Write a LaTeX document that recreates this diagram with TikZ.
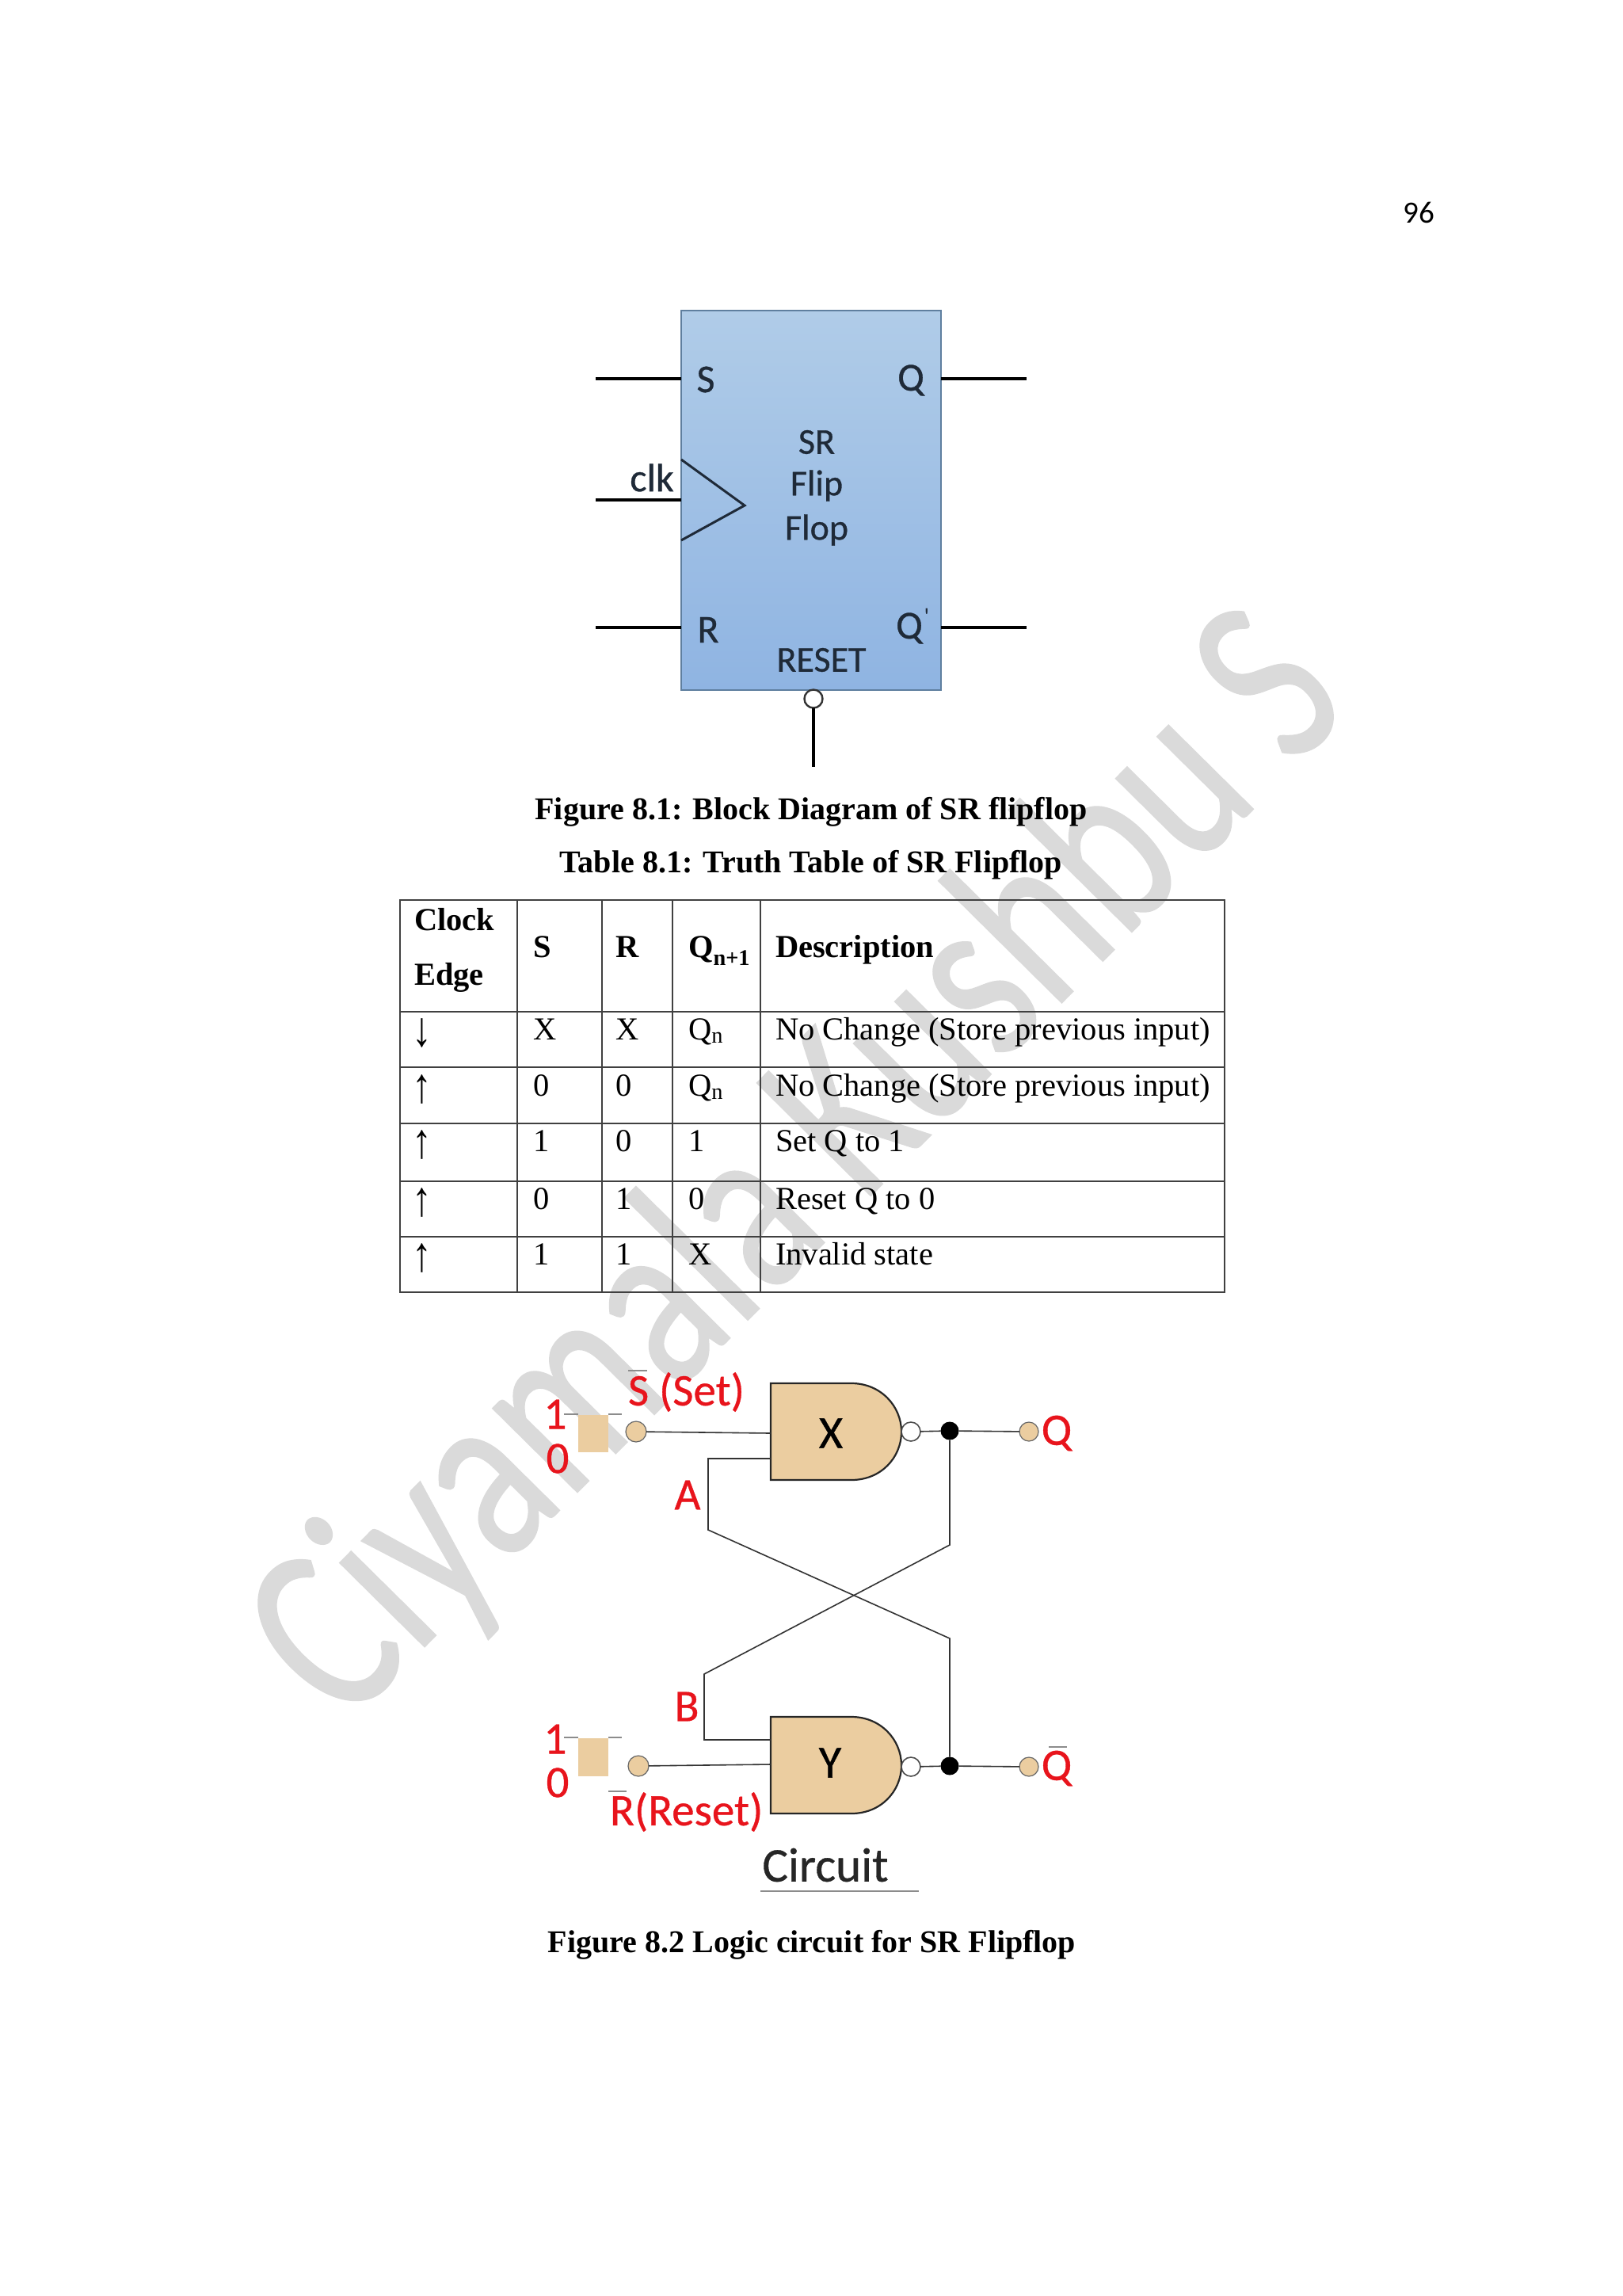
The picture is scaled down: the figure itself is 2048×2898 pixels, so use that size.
\documentclass[tikz,border=0pt]{standalone}
\usepackage{fontspec}
\usepackage{graphicx}
\setmainfont{Liberation Serif}
\newfontfamily\calfont{Carlito}
\newfontfamily\calmed[FakeBold=0.6]{Carlito}
\definecolor{tan1}{HTML}{EBCDA0}
\definecolor{redt}{HTML}{E8141C}
\definecolor{blk}{HTML}{1F2A38}
\definecolor{wm}{HTML}{DADADA}
\definecolor{ffedge}{HTML}{5F7F9F}
\definecolor{fftop}{HTML}{B0CCE8}
\definecolor{ffbot}{HTML}{8FB4E2}
\newcommand{\fs}[1]{\fontsize{#1}{#1}\selectfont}
\tikzset{
  every node/.style={inner sep=0pt,outer sep=0pt},
  tcell/.style={anchor=base west,font=\fs{40.5}},
  bcell/.style={anchor=base west,font=\fs{40.5}\bfseries},
  arrowcell/.style={font=\fs{62}},
  captext/.style={font=\fs{40}\bfseries},
  blabel/.style={font=\calmed\fs{46},text=blk},
  rlabel/.style={font=\calmed\fs{57},text=redt},
  pinline/.style={line width=3.6pt,black},
  gateshape/.style={draw=black!85,line width=2.2pt,fill=tan1},
  wireline/.style={line width=1.6pt,black!80},
  bubble/.style={circle,draw=black!70,line width=1.6pt,fill=white,minimum size=24pt},
  blackdot/.style={circle,fill=black,minimum size=23pt},
  termdot/.style={circle,draw=black!60,line width=1.2pt,fill=tan1,minimum size=24pt},
  tickline/.style={line width=1.4pt,black!45},
  tabrule/.style={line width=2pt,black!75}
}
\begin{document}
\begin{tikzpicture}[x=1pt,y=-1pt]
\useasboundingbox (0,0) rectangle (2048,2898);
\fill[white] (0,0) rectangle (2048,2898);
% watermark
\node[rotate=45.3,font=\calmed\fs{315},text=wm,anchor=center] (wmark) at (1012,1478) {\scalebox{0.76}[1]{Ciyamala Kushbu S}};
% page number
\node[font=\calfont\fs{39}] (pg) at (1791,268) {96};
% block
\node[draw=ffedge,line width=2pt,minimum width=328pt,minimum height=479pt,anchor=north west,
  top color=fftop,bottom color=ffbot] (ff) at (860,392) {};
\coordinate (sl) at (752,478); \coordinate (sr) at (860,478);
\coordinate (cl) at (752,631); \coordinate (cr) at (860,631);
\coordinate (rl) at (752,792); \coordinate (rr) at (860,792);
\coordinate (ql) at (1188,478); \coordinate (qr) at (1296,478);
\coordinate (nl) at (1188,792); \coordinate (nr) at (1296,792);
\draw[pinline] (sl)--(sr); \draw[pinline] (cl)--(cr); \draw[pinline] (rl)--(rr);
\draw[pinline] (ql)--(qr); \draw[pinline] (nl)--(nr);
\coordinate (t1) at (860,580); \coordinate (t2) at (940,638); \coordinate (t3) at (860,682);
\draw[line width=3pt,blk] (t1)--(t2)--(t3);
\node[circle,draw=black!80,line width=2.4pt,fill=white,minimum size=23pt] (rb) at (1027,882) {};
\coordinate (re) at (1027,968);
\draw[pinline] (rb)--(re);
\node[blabel,font=\calmed\fs{50}] (ls) at (891,479) {S};
\node[blabel,font=\calmed\fs{50}] (lq) at (1150,480) {Q};
\node[blabel] (l1) at (1031,558) {SR};
\node[blabel] (l2) at (1031,613) {Flip};
\node[blabel] (l3) at (1031,669) {Flop};
\node[blabel,font=\calmed\fs{50}] (lc) at (823,603) {clk};
\node[blabel,font=\calmed\fs{50}] (lr) at (894,795) {R};
\node[blabel,font=\calmed\fs{50}] (lqq) at (1148,793) {Q};
\node[blabel,font=\calfont\fs{30}] (lp) at (1170,778) {'};
\node[blabel] (lres) at (1037,833) {RESET};
% captions
\node[captext] (c1) at (1024,1025) {Figure 8.1: Block Diagram of SR flipflop};
\node[captext] (c2) at (1024,1092) {Table 8.1: Truth Table of SR Flipflop};
% table
\draw[tabrule] (505,1136) rectangle (1546,1631);
\foreach \x in {653,760,849,960} \draw[tabrule,line width=1.6pt] (\x,1136)--(\x,1631);
\foreach \y in {1277,1347,1418,1491,1561} \draw[tabrule] (505,\y)--(1546,\y);
\node[bcell] (h1) at (523,1174) {Clock};
\node[bcell] (h2) at (523,1243) {Edge};
\node[bcell] (h3) at (673,1208) {S};
\node[bcell] (h4) at (777,1208) {R};
\node[bcell] (h5) at (869,1208) {Q\textsubscript{n+1}};
\node[bcell] (h6) at (979,1208) {Description};
\foreach \n/\y/\a/\b/\c/\d/\e in {
 a/1312/↓/X/X/Q\textsubscript{n}/No Change (Store previous input),
 b/1383/↑/0/0/Q\textsubscript{n}/No Change (Store previous input),
 c/1453/↑/1/0/1/Set Q to 1,
 d/1526/↑/0/1/0/Reset Q to 0,
 e/1596/↑/1/1/X/Invalid state}{
 \node[arrowcell] (\n1) at (533,\y-8) {\scalebox{0.8}[1]{\a}};
 \node[tcell] (\n2) at (673,\y) {\b};
 \node[tcell] (\n3) at (777,\y) {\c};
 \node[tcell] (\n4) at (869,\y) {\d};
 \node[tcell] (\n5) at (979,\y) {\e};
}
% circuit
\path[gateshape] (973,1746) -- (1075,1746) .. controls (1112,1746) and (1138,1775) .. (1138,1807) .. controls (1138,1840) and (1112,1868) .. (1075,1868) -- (973,1868) -- cycle;
\path[gateshape] (973,2167) -- (1075,2167) .. controls (1112,2167) and (1138,2196) .. (1138,2228) .. controls (1138,2261) and (1112,2289) .. (1075,2289) -- (973,2289) -- cycle;
\node[font=\calmed\fs{58}] (xl) at (1049,1809) {X};
\node[font=\calmed\fs{58}] (yl) at (1048,2225) {Y};
\node[bubble] (bx) at (1150,1807) {};
\node[bubble] (by) at (1150,2230) {};
\node[blackdot] (dx) at (1199,1806) {};
\node[blackdot] (dy) at (1199,2229) {};
\node[termdot] (qx) at (1299,1807) {};
\node[termdot] (qy) at (1299,2230) {};
\node[termdot,minimum size=26pt] (sc) at (803,1807) {};
\node[termdot,minimum size=26pt] (rc) at (806,2229) {};
\coordinate (xin1) at (973,1809); \coordinate (xin2) at (973,1841);
\coordinate (yin1) at (973,2196); \coordinate (yin2) at (973,2227);
\draw[wireline] (sc)--(xin1);
\draw[wireline] (rc)--(yin2);
\draw[wireline] (bx)--(dx); \draw[wireline] (dx)--(qx);
\draw[wireline] (by)--(dy); \draw[wireline] (dy)--(qy);
\coordinate (a1) at (894,1841); \coordinate (a2) at (894,1931); \coordinate (a3) at (1199,2068);
\coordinate (b1) at (889,2196); \coordinate (b2) at (889,2113); \coordinate (b3) at (1199,1950);
\draw[wireline] (xin2)--(a1)--(a2)--(a3)--(dy);
\draw[wireline] (yin1)--(b1)--(b2)--(b3)--(dx);
% switches
\fill[tan1] (730,1786) rectangle (768,1833);
\fill[tan1] (730,2194) rectangle (768,2242);
\draw[tickline] (712,1785)--(730,1785); \draw[tickline] (768,1785)--(785,1785);
\draw[tickline] (712,2193)--(730,2193); \draw[tickline] (768,2193)--(785,2193);
\node[rlabel] (o1) at (701,1785) {1};
\node[rlabel] (z1) at (704,1841) {0};
\node[rlabel] (o2) at (701,2195) {1};
\node[rlabel] (z2) at (704,2250) {0};
\node[rlabel,anchor=west] (sset) at (793,1757) {S (Set)};
\node[rlabel,anchor=west] (rset) at (770,2287) {R(Reset)};
\node[rlabel] (al) at (868,1887) {A};
\node[rlabel] (bl) at (867,2154) {B};
\node[rlabel] (q1) at (1334,1809) {Q};
\node[rlabel] (q2) at (1334,2232) {Q};
\coordinate (so1) at (793,1730); \coordinate (so2) at (817,1730);
\coordinate (ro1) at (768,2261); \coordinate (ro2) at (791,2261);
\coordinate (qo1) at (1324,2205); \coordinate (qo2) at (1347,2205);
\draw[tickline] (so1)--(so2); \draw[tickline] (ro1)--(ro2); \draw[tickline] (qo1)--(qo2);
\node[font=\calmed\fs{61},text=black!85] (circ) at (1042,2354) {Circuit};
\coordinate (u1) at (960,2387); \coordinate (u2) at (1160,2387);
\draw[tickline] (u1)--(u2);
\node[captext] (c3) at (1025,2455) {Figure 8.2 Logic circuit for SR Flipflop};
\end{tikzpicture}
\end{document}
